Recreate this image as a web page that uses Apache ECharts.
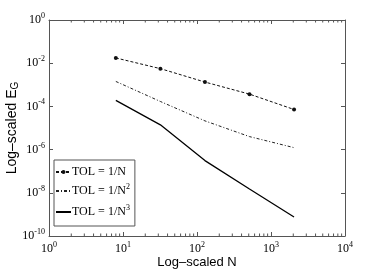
<!DOCTYPE html>
<html>
<head>
<meta charset="utf-8">
<script src="https://cdn.jsdelivr.net/npm/echarts@6/dist/echarts.min.js"></script>
<style>html,body{margin:0;padding:0;background:#fff}#c{width:382px;height:273px}</style>
</head>
<body>
<div id="c"></div>
<script>
var nValues = [8, 32, 128, 512, 2048];
var tol1 = [1.75e-2, 5.6e-3, 1.34e-3, 3.7e-4, 7.2e-5];
var tol2 = [1.43e-3, 1.69e-4, 2.14e-5, 4.0e-6, 1.23e-6];
var tol3 = [1.9e-4, 1.4e-5, 3.1e-7, 1.5e-8, 7.6e-10];
var seriesNames = ['TOL = 1/N', 'TOL = 1/N^2', 'TOL = 1/N^3'];
var xMinorTicks = [2,3,4,5,6,7,8,9,20,30,40,50,60,70,80,90,200,300,400,500,600,700,800,900,2000,3000,4000,5000,6000,7000,8000,9000];

var serif = 'Liberation Serif';
var sans = 'Liberation Sans';
var axisColor = '#555';

function powLabel(v) {
  var e = Math.round(Math.log10(v));
  return '{b|10}{s|' + e + '}';
}
var tickRich = {
  b: {fontFamily: serif, fontSize: 12, color: '#000', lineHeight: 14},
  s: {fontFamily: serif, fontSize: 8, color: '#000', padding: [0, 0, 8, 0]}
};

function pairs(ys) { return nValues.map(function (x, i) { return [x, ys[i]]; }); }

var chart = echarts.init(document.getElementById('c'), null, {renderer: 'canvas'});
chart.setOption({
  animation: false,
  backgroundColor: '#fff',
  grid: {left: 49, right: 37, top: 20, bottom: 37, containLabel: false, outerBoundsMode: 'none'},
  xAxis: [{
    type: 'log', logBase: 10, min: 1, max: 10000, interval: 1,
    position: 'bottom',
    axisLine: {show: true, onZero: false, lineStyle: {color: axisColor, width: 1}},
    axisTick: {show: true, inside: true, length: 4, lineStyle: {color: axisColor}},
    axisLabel: {formatter: powLabel, rich: tickRich, margin: 5},
    splitLine: {show: false},
    name: 'Log\u2013scaled N', nameLocation: 'middle', nameGap: 20, nameMoveOverlap: false,
    nameTextStyle: {fontFamily: 'Liberation Sans Narrow, ' + sans, fontSize: 13, color: '#000'}
  }, {
    type: 'log', logBase: 10, min: 1, max: 10000, interval: 1,
    position: 'top',
    axisLine: {show: true, onZero: false, lineStyle: {color: axisColor, width: 1}},
    axisTick: {show: true, inside: true, length: 4, lineStyle: {color: axisColor}},
    axisLabel: {show: false},
    splitLine: {show: false}
  }],
  yAxis: [{
    type: 'log', logBase: 10, min: 1e-10, max: 1, interval: 2,
    position: 'left',
    axisLine: {show: true, onZero: false, lineStyle: {color: axisColor, width: 1}},
    axisTick: {show: true, inside: true, length: 4, lineStyle: {color: axisColor}},
    axisLabel: {formatter: powLabel, rich: tickRich, margin: 4},
    splitLine: {show: false},
    name: '{a|Log\u2013scaled E}{g|G}', nameLocation: 'middle', nameGap: 29, nameRotate: 90,
    nameMoveOverlap: false,
    nameTextStyle: {
      rich: {
        a: {fontFamily: sans, fontSize: 14, color: '#000'},
        g: {fontFamily: sans, fontSize: 10, color: '#000', padding: [6, 0, 0, 0]}
      }
    }
  }, {
    type: 'log', logBase: 10, min: 1e-10, max: 1, interval: 2,
    position: 'right',
    axisLine: {show: true, onZero: false, lineStyle: {color: axisColor, width: 1}},
    axisTick: {show: true, inside: true, length: 4, lineStyle: {color: axisColor}},
    axisLabel: {show: false},
    splitLine: {show: false}
  }],
  legend: {
    data: [
      {name: seriesNames[0]},
      {name: seriesNames[1], itemStyle: {opacity: 0}},
      {name: seriesNames[2], itemStyle: {opacity: 0}}
    ],
    orient: 'vertical',
    left: 54, top: 160,
    backgroundColor: 'transparent',
    borderColor: axisColor, borderWidth: 1, borderRadius: 0,
    padding: [6, 5, 6, 1],
    itemWidth: 15, itemHeight: 5, itemGap: 5,
    formatter: function (name) {
      var parts = name.split('^');
      return parts.length > 1 ? '{t|' + parts[0] + '}{s|' + parts[1] + '}' : '{t|' + name + '}';
    },
    textStyle: {
      padding: [0, 0, 0, -4],
      rich: {
        t: {fontFamily: serif, fontSize: 12, color: '#000', lineHeight: 17},
        s: {fontFamily: serif, fontSize: 8, color: '#000', lineHeight: 17, padding: [0, 0, 8, 0]}
      }
    }
  },
  series: [{
    name: seriesNames[0], type: 'line', data: pairs(tol1),
    symbol: 'circle', symbolSize: 4, showSymbol: true,
    itemStyle: {color: '#111'},
    lineStyle: {color: '#111', width: 1, type: [3, 2]}
  }, {
    name: seriesNames[1], type: 'line', data: pairs(tol2),
    symbol: 'none',
    itemStyle: {color: '#222'},
    lineStyle: {color: '#222', width: 1, type: [3, 2, 1, 2]}
  }, {
    name: seriesNames[2], type: 'line', data: pairs(tol3),
    symbol: 'none',
    itemStyle: {color: '#000'},
    lineStyle: {color: '#000', width: 1.3, type: 'solid'}
  }, {
    type: 'custom', silent: true, z: 10,
    data: xMinorTicks.map(function (v) { return [v]; }),
    encode: {x: 0},
    renderItem: function (params, api) {
      var v = api.value(0);
      var bottom = api.coord([v, 1e-10]);
      var top = api.coord([v, 1]);
      var st = {stroke: axisColor, lineWidth: 1};
      return {
        type: 'group',
        children: [
          {type: 'line', shape: {x1: bottom[0], y1: bottom[1], x2: bottom[0], y2: bottom[1] - 2.5}, style: st},
          {type: 'line', shape: {x1: top[0], y1: top[1], x2: top[0], y2: top[1] + 2.5}, style: st}
        ]
      };
    }
  }]
});
</script>
</body>
</html>
